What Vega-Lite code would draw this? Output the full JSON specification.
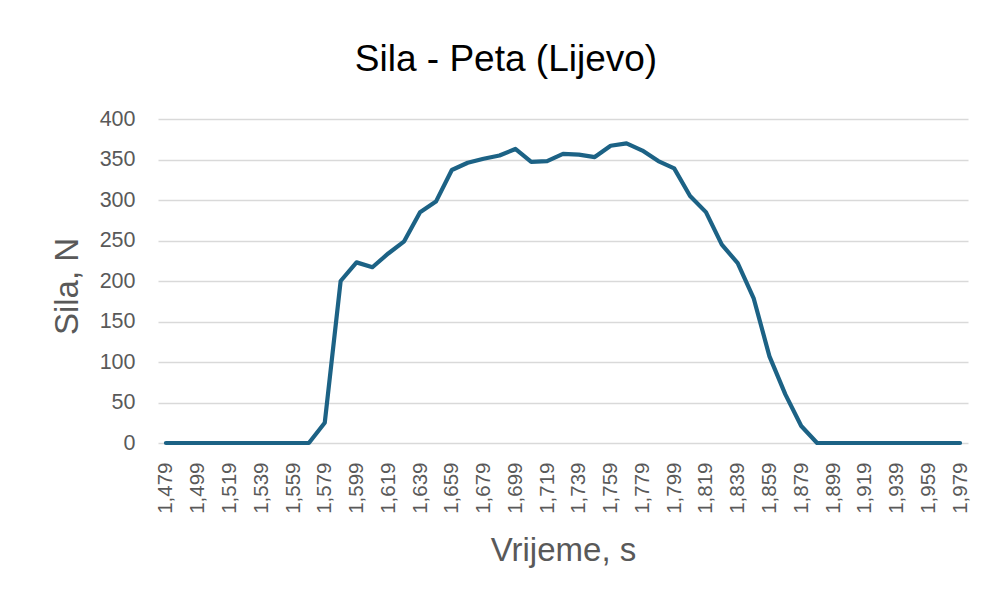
{
  "$schema": "https://vega.github.io/schema/vega-lite/v6.json",
  "autosize": {"type": "none"},
  "padding": {"left": 158, "top": 119, "right": 15, "bottom": 155},
  "width": 810,
  "height": 324,
  "background": "white",
  "config": {
    "font": "Liberation Sans",
    "view": {"stroke": null}
  },
  "title": {
    "text": "Sila - Peta (Lijevo)",
    "font": "Liberation Sans",
    "fontSize": 37,
    "fontWeight": "normal",
    "color": "#000000",
    "anchor": "middle",
    "baseline": "alphabetic",
    "offset": 0,
    "dx": -57
  },
  "data": {
    "values": [
      {"t": "1,479", "f": 0}, {"t": "1,489", "f": 0}, {"t": "1,499", "f": 0}, {"t": "1,509", "f": 0},
      {"t": "1,519", "f": 0}, {"t": "1,529", "f": 0}, {"t": "1,539", "f": 0}, {"t": "1,549", "f": 0},
      {"t": "1,559", "f": 0}, {"t": "1,569", "f": 0}, {"t": "1,579", "f": 25}, {"t": "1,589", "f": 200},
      {"t": "1,599", "f": 223}, {"t": "1,609", "f": 217}, {"t": "1,619", "f": 234}, {"t": "1,629", "f": 249},
      {"t": "1,639", "f": 285}, {"t": "1,649", "f": 298}, {"t": "1,659", "f": 337}, {"t": "1,669", "f": 346},
      {"t": "1,679", "f": 351}, {"t": "1,689", "f": 355}, {"t": "1,699", "f": 363}, {"t": "1,709", "f": 347},
      {"t": "1,719", "f": 348}, {"t": "1,729", "f": 357}, {"t": "1,739", "f": 356}, {"t": "1,749", "f": 353},
      {"t": "1,759", "f": 367}, {"t": "1,769", "f": 370}, {"t": "1,779", "f": 361}, {"t": "1,789", "f": 348},
      {"t": "1,799", "f": 339}, {"t": "1,809", "f": 305}, {"t": "1,819", "f": 285}, {"t": "1,829", "f": 245},
      {"t": "1,839", "f": 222}, {"t": "1,849", "f": 179}, {"t": "1,859", "f": 107}, {"t": "1,869", "f": 60},
      {"t": "1,879", "f": 21}, {"t": "1,889", "f": 0}, {"t": "1,899", "f": 0}, {"t": "1,909", "f": 0},
      {"t": "1,919", "f": 0}, {"t": "1,929", "f": 0}, {"t": "1,939", "f": 0}, {"t": "1,949", "f": 0},
      {"t": "1,959", "f": 0}, {"t": "1,969", "f": 0}, {"t": "1,979", "f": 0}
    ]
  },
  "mark": {"type": "line", "color": "#1c6285", "strokeWidth": 4.2, "strokeJoin": "round", "strokeCap": "round"},
  "encoding": {
    "x": {
      "field": "t",
      "type": "ordinal",
      "sort": null,
      "scale": {"type": "point", "padding": 0.5},
      "axis": {
        "title": "Vrijeme, s",
        "titleFont": "Liberation Sans",
        "titleFontSize": 33,
        "titleFontWeight": "normal",
        "titleColor": "#595959",
        "titleX": 405,
        "titleY": 117,
        "titleBaseline": "alphabetic",
        "titleAlign": "center",
        "values": ["1,479","1,499","1,519","1,539","1,559","1,579","1,599","1,619","1,639","1,659","1,679","1,699","1,719","1,739","1,759","1,779","1,799","1,819","1,839","1,859","1,879","1,899","1,919","1,939","1,959","1,979"],
        "labelAngle": 270,
        "labelFontSize": 20.5,
        "labelColor": "#595959",
        "labelPadding": 19,
        "ticks": false,
        "domain": false,
        "grid": false,
        "labelOverlap": false
      }
    },
    "y": {
      "field": "f",
      "type": "quantitative",
      "scale": {"domain": [0, 400], "nice": false},
      "axis": {
        "title": "Sila, N",
        "titleFont": "Liberation Sans",
        "titleFontSize": 33,
        "titleFontWeight": "normal",
        "titleColor": "#595959",
        "titleX": -81,
        "titleY": 167,
        "titleAngle": 270,
        "titleBaseline": "alphabetic",
        "titleAlign": "center",
        "values": [0, 50, 100, 150, 200, 250, 300, 350, 400],
        "labelFontSize": 21.5,
        "labelColor": "#595959",
        "labelPadding": 23,
        "ticks": false,
        "domain": false,
        "grid": true,
        "gridColor": "#d9d9d9",
        "gridWidth": 1.3
      }
    }
  }
}
